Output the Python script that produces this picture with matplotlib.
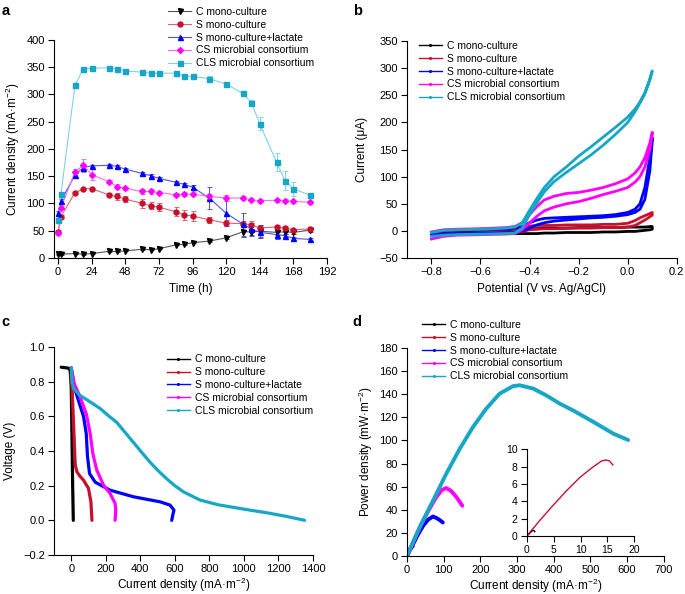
#!/usr/bin/env python3
"""
Microbial fuel cell performance: current over time, CV, polarization, power
"""

import numpy as np
import matplotlib
matplotlib.use("Agg")
import matplotlib.pyplot as plt
from matplotlib.lines import Line2D

plt.rcParams['font.family'] = ['Liberation Sans', 'DejaVu Sans']
plt.rcParams['mathtext.fontset'] = 'custom'
plt.rcParams['mathtext.rm'] = 'Liberation Sans'
plt.rcParams['mathtext.it'] = 'Liberation Sans:italic'
plt.rcParams['font.size'] = 8

labels = ['C mono-culture', 'S mono-culture', 'S mono-culture+lactate',
          'CS microbial consortium', 'CLS microbial consortium']
colors = ['#000000', '#c8102e', '#0000ff', '#ff00ff', '#17a6c6']

# ---- panel a: current density vs time ----
time_h = [0, 2, 12, 18, 24, 36, 42, 48, 60, 66, 72, 84, 90, 96, 108, 120,
          132, 138, 144, 156, 162, 168, 180]
cur_c = [7, 7, 8, 7, 8, 12, 12, 13, 16, 15, 17, 24, 25, 28, 31, 37,
         48, 48, 49, 47, 48, 47, 51]
cur_s = [48, 76, 120, 127, 127, 116, 113, 108, 100, 96, 93, 85, 79, 77, 70, 64,
         63, 61, 55, 57, 55, 52, 53]
cur_sl = [82, 105, 152, 166, 169, 170, 168, 163, 155, 151, 146, 139, 135, 130, 110, 82,
          62, 53, 47, 43, 41, 36, 34]
cur_cs = [45, 92, 158, 170, 153, 140, 131, 128, 122, 122, 120, 116, 117, 117, 113, 110,
          110, 107, 105, 106, 105, 104, 102]
cur_cls = [70, 118, 317, 347, 348, 349, 347, 343, 341, 339, 339, 339, 334, 333, 329, 319,
           302, 285, 246, 176, 142, 127, 115]
err_c = [1, 1, 1, 1, 1, 1, 1, 1, 1, 1, 1, 1, 1, 1, 1, 2, 10, 6, 12, 4, 4, 3, 4]
err_s = [3, 3, 3, 2, 2, 4, 6, 6, 8, 7, 7, 8, 9, 9, 6, 6, 5, 7, 4, 4, 3, 2, 3]
err_sl = [4, 4, 3, 3, 2, 2, 2, 3, 3, 3, 3, 3, 3, 3, 20, 23, 21, 12, 8, 8, 3, 3, 2]
err_cs = [3, 3, 6, 12, 10, 3, 4, 3, 4, 4, 3, 3, 4, 3, 4, 5, 4, 3, 3, 3, 3, 3, 3]
err_cls = [3, 3, 3, 3, 2, 3, 3, 3, 2, 2, 2, 3, 3, 4, 5, 3, 3, 4, 12, 17, 17, 13, 5]

# ---- panel b: cyclic voltammetry (upper and lower branches) ----
potential = [-0.80, -0.75, -0.70, -0.60, -0.50, -0.46, -0.43, -0.40, -0.37, -0.34, -0.30,
             -0.25, -0.20, -0.15, -0.10, -0.05, 0.00, 0.03, 0.05, 0.07, 0.09, 0.10]
cv_c_hi = [-4, -1, 0, 1, 2, 3, 3, 4, 4, 5, 5, 5, 6, 6, 6, 6, 7, 7, 7, 7, 8, 8]
cv_c_lo = [-6, -6, -6, -5, -5, -5, -5, -5, -5, -4, -4, -3, -3, -3, -2, -2, -1, -1, 0, 1, 2, 3]
cv_s_hi = [-3, 0, 1, 2, 3, 4, 6, 9, 10, 10, 10, 11, 11, 11, 12, 12, 14, 19, 24, 28, 32, 34]
cv_s_lo = [-7, -6, -5, -5, -4, -3, -1, 2, 3, 4, 4, 5, 5, 5, 6, 6, 7, 10, 15, 20, 26, 29]
cv_sl_hi = [-3, 1, 2, 3, 4, 5, 8, 15, 20, 23, 24, 25, 26, 27, 28, 30, 34, 40, 50, 80, 135, 172]
cv_sl_lo = [-8, -6, -5, -4, -3, -3, 0, 5, 11, 15, 18, 20, 22, 24, 25, 27, 30, 34, 40, 58, 110, 165]
cv_cs_hi = [-2, 2, 3, 4, 6, 8, 15, 30, 45, 57, 64, 69, 71, 75, 80, 87, 96, 107, 118, 135, 162, 182]
cv_cs_lo = [-15, -10, -8, -7, -6, -5, 2, 15, 27, 37, 44, 50, 54, 60, 67, 73, 80, 90, 100, 118, 150, 178]
cv_cls_hi = [-3, 1, 2, 3, 5, 7, 15, 38, 60, 80, 100, 118, 138, 155, 173, 191, 210, 225, 238, 255, 280, 295]
cv_cls_lo = [-10, -8, -7, -6, -5, -4, 5, 30, 52, 72, 91, 108, 124, 140, 158, 178, 200, 220, 236, 253, 278, 295]

# ---- panel c: polarization curves ----
pol_c_i = [-58, -15, -6, 0, 4, 8, 12]
pol_c_v = [0.884, 0.878, 0.865, 0.77, 0.50, 0.21, 0.0]
pol_s_i = [-2, 4, 13, 23, 33, 50, 71, 100, 114, 120]
pol_s_v = [0.84, 0.78, 0.57, 0.32, 0.28, 0.255, 0.232, 0.184, 0.107, 0.0]
pol_sl_i = [0, 20, 42, 71, 87, 94, 106, 139, 225, 360, 514, 572, 595, 588, 582]
pol_sl_v = [0.88, 0.76, 0.69, 0.60, 0.50, 0.37, 0.27, 0.22, 0.174, 0.136, 0.107, 0.088, 0.059, 0.03, 0.0]
pol_cs_i = [0, 17, 52, 87, 110, 125, 148, 187, 225, 254, 258, 254]
pol_cs_v = [0.88, 0.79, 0.71, 0.615, 0.50, 0.385, 0.29, 0.203, 0.155, 0.098, 0.06, 0.0]
pol_cls_i = [0, 4, 13, 52, 100, 168, 220, 264, 310, 360, 410, 457, 505, 553, 600, 649,
             746, 850, 938, 1040, 1131, 1250, 1352]
pol_cls_v = [0.88, 0.80, 0.76, 0.72, 0.69, 0.645, 0.60, 0.565, 0.51, 0.45, 0.39, 0.335,
             0.285, 0.24, 0.20, 0.165, 0.117, 0.09, 0.075, 0.058, 0.044, 0.022, 0.0]

# ---- panel d: power density curves ----
pow_c_i = [0, 0.6, 1.0, 1.3, 1.5]
pow_c_p = [0, 0.35, 0.6, 0.65, 0.5]
pow_s_i = [0, 2.5, 4.95, 7.4, 9.9, 12.4, 13.9, 14.7, 15.4, 16.0]
pow_s_p = [0, 1.85, 3.58, 5.23, 6.77, 8.0, 8.65, 8.77, 8.65, 8.2]
pow_sl_i = [0, 15, 30, 45, 58, 71, 80, 90, 98]
pow_sl_p = [0, 9, 18.5, 26.5, 31.5, 34.2, 33, 31, 29]
pow_cs_i = [0, 20, 40, 60, 80, 95, 107, 120, 135, 151]
pow_cs_p = [0, 14, 28, 40, 51, 57, 58.8, 56.5, 51, 43.5]
pow_cls_i = [0, 34.5, 71, 107, 144, 180, 216, 253, 289, 307, 344, 380, 416, 453, 507, 562, 603]
pow_cls_p = [0, 24.6, 47.8, 71, 92.8, 111.6, 127.5, 140.6, 147, 147.8, 145, 139, 132, 126,
             116.3, 106, 100.4]


def style_axes(ax, size=8):
    for side in ['top', 'right']:
        ax.spines[side].set_visible(False)
    for side in ['left', 'bottom']:
        ax.spines[side].set_linewidth(0.8)
    ax.tick_params(direction='out', length=4, width=0.8, labelsize=size, pad=2.5)


def line_handles(ms=2.5):
    return [Line2D([], [], color=c, lw=1.0, marker='.', markersize=ms) for c in colors]


fig = plt.figure(figsize=(6.85, 5.94), dpi=100)
LEG = dict(frameon=False, fontsize=7.5, handlelength=2.2, handletextpad=0.5,
           labelspacing=0.27, borderpad=0)

# ---------------- a ----------------
ax = fig.add_axes([0.0788, 0.5657, 0.3985, 0.367])
series_a = [(cur_c, err_c, 'v'), (cur_s, err_s, 'o'), (cur_sl, err_sl, '^'),
            (cur_cs, err_cs, 'D'), (cur_cls, err_cls, 's')]
line_cols_a = ['#555555', '#e06070', '#5050ff', '#ff66ff', '#7fd3e6']
handles_a = []
for (vals, errs, mk), col, lcol in zip(series_a, colors, line_cols_a):
    ax.errorbar(time_h, vals, yerr=errs, color=lcol, ecolor=lcol, elinewidth=0.7,
                capsize=1.8, capthick=0.7, lw=0.8, marker=None, clip_on=False, zorder=2)
    ax.plot(time_h, vals, ls='none', marker=mk, color=col,
            markersize=3.6 if mk != 'D' else 3.0, clip_on=False, zorder=3)
    handles_a.append(Line2D([], [], color=lcol, lw=0.8, marker=mk, markerfacecolor=col,
                            markeredgecolor=col, markersize=3.6 if mk != 'D' else 3.0))
ax.set_xlim(-3, 192)
ax.set_ylim(0, 400)
ax.set_xticks(np.arange(0, 193, 24))
ax.set_yticks(np.arange(0, 401, 50))
ax.set_xlabel('Time (h)', fontsize=8.5, labelpad=4)
ax.set_ylabel('Current density (mA·m$^{-2}$)', fontsize=8.5, labelpad=3)
style_axes(ax)
fig.legend(handles_a, labels, loc='upper left', bbox_to_anchor=(0.238, 0.997), **LEG)

# ---------------- b ----------------
ax = fig.add_axes([0.594, 0.5657, 0.394, 0.365])
cv = [(cv_c_hi, cv_c_lo), (cv_s_hi, cv_s_lo), (cv_sl_hi, cv_sl_lo),
      (cv_cs_hi, cv_cs_lo), (cv_cls_hi, cv_cls_lo)]
for (hi, lo), col in zip(cv, colors):
    ax.plot(potential + potential[::-1], hi + lo[::-1], color=col, lw=2.0)
ax.set_xlim(-0.9, 0.2)
ax.set_ylim(-50, 350)
ax.set_xticks([-0.8, -0.6, -0.4, -0.2, 0.0, 0.2])
ax.set_yticks(np.arange(-50, 351, 50))
ax.set_xticklabels(['\u22120.8', '\u22120.6', '\u22120.4', '\u22120.2', '0.0', '0.2'])
ax.set_xlabel('Potential (V vs. Ag/AgCl)', fontsize=8.5, labelpad=4)
ax.set_ylabel('Current (\u03bcA)', fontsize=8.5, labelpad=8)
style_axes(ax)
ax.legend(line_handles(), labels, loc='upper left', bbox_to_anchor=(0.025, 1.025), **LEG)

# ---------------- c ----------------
ax = fig.add_axes([0.0788, 0.0657, 0.378, 0.350])
pol = [(pol_c_i, pol_c_v), (pol_s_i, pol_s_v), (pol_sl_i, pol_sl_v),
       (pol_cs_i, pol_cs_v), (pol_cls_i, pol_cls_v)]
for (i, v), col in zip(pol, colors):
    ax.plot(i, v, color=col, lw=2.3, solid_capstyle='round')
ax.set_xlim(-100, 1400)
ax.set_ylim(-0.2, 1.0)
ax.set_xticks(np.arange(0, 1401, 200))
ax.set_yticks(np.arange(-0.2, 1.01, 0.2))
ax.set_yticklabels(['\u22120.2', '0.0', '0.2', '0.4', '0.6', '0.8', '1.0'])
ax.set_xlabel('Current density (mA·m$^{-2}$)', fontsize=8.5, labelpad=1.5)
ax.set_ylabel('Voltage (V)', fontsize=8.5, labelpad=5)
style_axes(ax)
ax.legend(line_handles(), labels, loc='upper left', bbox_to_anchor=(0.415, 0.99), **LEG)

# ---------------- d ----------------
ax = fig.add_axes([0.594, 0.064, 0.375, 0.350])
pw = [(pow_c_i, pow_c_p), (pow_s_i, pow_s_p), (pow_sl_i, pow_sl_p),
      (pow_cs_i, pow_cs_p), (pow_cls_i, pow_cls_p)]
for (i, p), col in zip(pw, colors):
    ax.plot(i, p, color=col, lw=2.8, solid_capstyle='round')
ax.set_xlim(0, 700)
ax.set_ylim(0, 180)
ax.set_xticks(np.arange(0, 701, 100))
ax.set_yticks(np.arange(0, 181, 20))
ax.set_xlabel('Current density (mA·m$^{-2}$)', fontsize=8.5, labelpad=1.5)
ax.set_ylabel('Power density (mW·m$^{-2}$)', fontsize=8.5, labelpad=3)
style_axes(ax)
ax.legend(line_handles(), labels, loc='upper left', bbox_to_anchor=(0.04, 1.16), **LEG)

# inset
axi = fig.add_axes([0.769, 0.0976, 0.157, 0.146])
axi.plot(pow_c_i, pow_c_p, color=colors[0], lw=1.0)
axi.plot(pow_s_i, pow_s_p, color=colors[1], lw=1.0)
axi.set_xlim(0, 20)
axi.set_ylim(0, 10)
axi.set_xticks([0, 5, 10, 15, 20])
axi.set_yticks([0, 2, 4, 6, 8, 10])
style_axes(axi, size=7.5)

# panel letters
for x, y, s in [(0.002, 0.993, 'a'), (0.515, 0.993, 'b'), (0.002, 0.47, 'c'), (0.515, 0.47, 'd')]:
    fig.text(x, y, s, fontsize=10.5, fontweight='bold', va='top', ha='left')

fig.savefig('out.png', dpi=100)
